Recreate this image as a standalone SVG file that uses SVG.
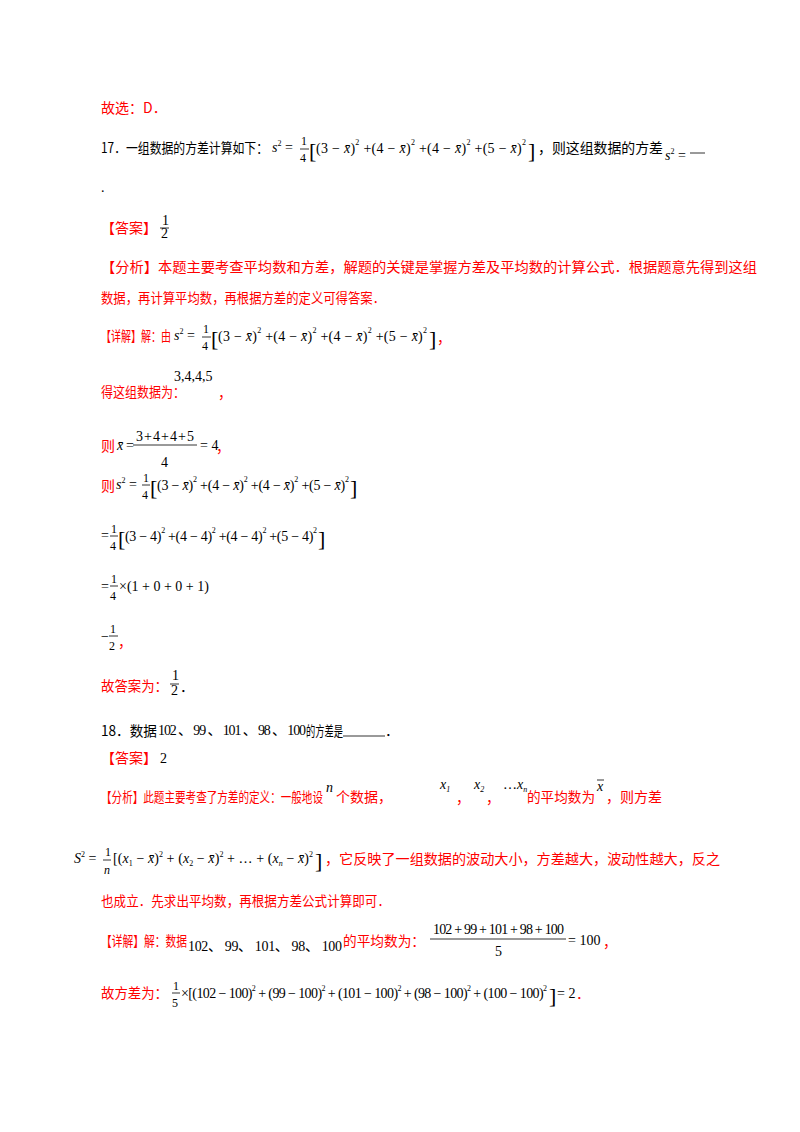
<svg xmlns="http://www.w3.org/2000/svg" width="800" height="1132" viewBox="0 0 800 1132">
<style>
text{font-family:"Liberation Serif","Noto Sans CJK SC",serif;font-size:14px;fill:#000}
.r{fill:#ff0000}
.c{font-family:"Noto Sans CJK SC","Liberation Sans",sans-serif;font-size:14px}
.i{font-style:italic}
.s{font-size:8px}
.f{font-size:12px}
.b{font-size:22px}
line{stroke:#000;stroke-width:0.8}
</style>
<rect width="800" height="1132" fill="#fff"/>
<text class="c r" x="101" y="113">故选：D．</text>

<text class="c" x="101" y="153" textLength="167" lengthAdjust="spacingAndGlyphs">17．一组数据的方差计算如下：</text>
<text x="272" y="152"><tspan class="i">s</tspan><tspan class="s" dy="-6">2</tspan><tspan dy="6"> =</tspan></text>
<text class="f" x="301" y="145">1</text><line x1="300" y1="149" x2="309" y2="149"/><text class="f" x="300" y="162">4</text>
<text x="309" y="158" class="b">[</text>
<text x="316" y="153" textLength="210" lengthAdjust="spacing">(3 − <tspan class="i">x̄</tspan>)<tspan class="s" dy="-8">2</tspan><tspan dy="8"> +(4 − </tspan><tspan class="i">x̄</tspan>)<tspan class="s" dy="-8">2</tspan><tspan dy="8"> +(4 − </tspan><tspan class="i">x̄</tspan>)<tspan class="s" dy="-8">2</tspan><tspan dy="8"> +(5 − </tspan><tspan class="i">x̄</tspan>)<tspan class="s" dy="-8">2</tspan></text>
<text x="528" y="158" class="b">]</text>
<text class="c" x="538" y="153" textLength="125" lengthAdjust="spacingAndGlyphs">，则这组数据的方差</text>
<text x="665" y="160"><tspan class="i">s</tspan><tspan class="s" dy="-6">2</tspan><tspan dy="6"> =</tspan></text>
<line x1="690" y1="153" x2="705" y2="153" stroke-width="1.5"/>
<text x="101" y="192">.</text>

<text class="c r" x="101" y="233">【答案】</text>
<text x="162" y="225" font-size="11">1</text><line x1="160" y1="228" x2="169" y2="228"/><text x="161" y="238" font-size="11">2</text>

<text class="c r" x="101" y="272" textLength="656" lengthAdjust="spacingAndGlyphs">【分析】本题主要考查平均数和方差，解题的关键是掌握方差及平均数的计算公式．根据题意先得到这组</text>
<text class="c r" x="101" y="303" textLength="284" lengthAdjust="spacingAndGlyphs">数据，再计算平均数，再根据方差的定义可得答案．</text>

<text class="c r" x="101" y="341" textLength="70" lengthAdjust="spacingAndGlyphs">【详解】解：由</text>
<text x="174" y="340"><tspan class="i">s</tspan><tspan class="s" dy="-6">2</tspan><tspan dy="6"> =</tspan></text>
<text class="f" x="203" y="333">1</text><line x1="202" y1="337" x2="211" y2="337"/><text class="f" x="202" y="350">4</text>
<text x="211" y="346" class="b">[</text>
<text x="218" y="341" textLength="209" lengthAdjust="spacing">(3 − <tspan class="i">x̄</tspan>)<tspan class="s" dy="-8">2</tspan><tspan dy="8"> +(4 − </tspan><tspan class="i">x̄</tspan>)<tspan class="s" dy="-8">2</tspan><tspan dy="8"> +(4 − </tspan><tspan class="i">x̄</tspan>)<tspan class="s" dy="-8">2</tspan><tspan dy="8"> +(5 − </tspan><tspan class="i">x̄</tspan>)<tspan class="s" dy="-8">2</tspan></text>
<text x="429" y="346" class="b">]</text>
<text class="c r" x="437" y="343">，</text>

<text class="c r" x="101" y="397" textLength="84" lengthAdjust="spacingAndGlyphs">得这组数据为：</text>
<text x="174" y="381">3,4,4,5</text>
<text class="c r" x="218" y="398">，</text>

<text class="c r" x="101" y="451">则</text>
<text x="117" y="450" class="i">x̄</text>
<text x="126" y="450">=</text>
<text x="136" y="441" textLength="58" lengthAdjust="spacing">3 + 4 + 4 + 5</text>
<line x1="133" y1="445" x2="197" y2="445"/>
<text x="161" y="467">4</text>
<text x="200" y="450">= 4</text>
<text class="c r" x="216" y="452">，</text>

<text class="c r" x="101" y="491">则</text>
<text x="116" y="489"><tspan class="i">s</tspan><tspan class="s" dy="-6">2</tspan><tspan dy="6"> =</tspan></text>
<text class="f" x="143" y="482">1</text><line x1="142" y1="485" x2="150" y2="485"/><text class="f" x="142" y="499">4</text>
<text x="150" y="495" class="b">[</text>
<text x="157" y="490" textLength="192" lengthAdjust="spacing">(3 − <tspan class="i">x̄</tspan>)<tspan class="s" dy="-8">2</tspan><tspan dy="8"> +(4 − </tspan><tspan class="i">x̄</tspan>)<tspan class="s" dy="-8">2</tspan><tspan dy="8"> +(4 − </tspan><tspan class="i">x̄</tspan>)<tspan class="s" dy="-8">2</tspan><tspan dy="8"> +(5 − </tspan><tspan class="i">x̄</tspan>)<tspan class="s" dy="-8">2</tspan></text>
<text x="350" y="495" class="b">]</text>

<text x="101" y="540">=</text>
<text class="f" x="111" y="533">1</text><line x1="110" y1="536" x2="118" y2="536"/><text class="f" x="110" y="550">4</text>
<text x="118" y="546" class="b">[</text>
<text x="125" y="541" textLength="192" lengthAdjust="spacing">(3 − 4)<tspan class="s" dy="-8">2</tspan><tspan dy="8"> +(4 − 4)</tspan><tspan class="s" dy="-8">2</tspan><tspan dy="8"> +(4 − 4)</tspan><tspan class="s" dy="-8">2</tspan><tspan dy="8"> +(5 − 4)</tspan><tspan class="s" dy="-8">2</tspan></text>
<text x="318" y="546" class="b">]</text>

<text x="101" y="591">=</text>
<text class="f" x="111" y="583">1</text><line x1="110" y1="586" x2="118" y2="586"/><text class="f" x="110" y="600">4</text>
<text x="119" y="591">×(1 + 0 + 0 + 1)</text>

<text x="101" y="641">−</text>
<text class="f" x="110" y="633">1</text><line x1="109" y1="636" x2="118" y2="636"/><text class="f" x="109" y="650">2</text>
<text class="c r" x="118" y="647">，</text>

<text class="c r" x="101" y="691" textLength="67" lengthAdjust="spacingAndGlyphs">故答案为：</text>
<text x="172" y="680" font-size="11">1</text><line x1="170" y1="684" x2="179" y2="684"/><text x="171" y="695" font-size="11">2</text>
<text class="c" x="180" y="692">．</text>

<text class="c" x="101" y="736" textLength="56" lengthAdjust="spacingAndGlyphs">18．数据</text>
<text x="158" y="735" textLength="148" lengthAdjust="spacing">102 、 99 、 101 、 98 、 100</text>
<text class="c" x="306" y="736" textLength="37" lengthAdjust="spacingAndGlyphs">的方差是</text>
<line x1="343" y1="736" x2="385" y2="736"/>
<text class="c" x="385" y="736">．</text>

<text class="c r" x="101" y="763">【答案】</text><text x="160" y="763">2</text>

<text class="c r" x="101" y="802" textLength="222" lengthAdjust="spacingAndGlyphs">【分析】此题主要考查了方差的定义：一般地设</text>
<text class="i" x="326" y="792">n</text>
<text class="c r" x="336" y="802" textLength="56" lengthAdjust="spacingAndGlyphs">个数据，</text>
<text class="i" x="440" y="789" font-size="15">x<tspan class="s" dy="3">1</tspan></text>
<text class="c r" x="456" y="803">，</text>
<text class="i" x="474" y="789" font-size="12">x<tspan class="s" dy="3">2</tspan></text>
<text class="c r" x="486" y="803">，</text>
<text x="503" y="789" font-size="12">…<tspan class="i">x</tspan><tspan class="s i" dy="3">n</tspan></text>
<text class="c r" x="527" y="802" textLength="68" lengthAdjust="spacingAndGlyphs">的平均数为</text>
<text class="i" x="597" y="791">x</text><line x1="597" y1="780" x2="604" y2="780"/>
<text class="c r" x="606" y="802" textLength="56" lengthAdjust="spacingAndGlyphs">，则方差</text>

<text x="74" y="863"><tspan class="i">S</tspan><tspan class="s" dy="-6">2</tspan><tspan dy="6"> =</tspan></text>
<text class="f" x="105" y="856">1</text><line x1="103" y1="860" x2="111" y2="860"/><text class="f i" x="104" y="874">n</text>
<text x="113" y="863" textLength="200" lengthAdjust="spacing">[(<tspan class="i">x</tspan><tspan class="s" dy="3">1</tspan><tspan dy="-3"> − </tspan><tspan class="i">x̄</tspan>)<tspan class="s" dy="-6">2</tspan><tspan dy="6"> + (</tspan><tspan class="i">x</tspan><tspan class="s" dy="3">2</tspan><tspan dy="-3"> − </tspan><tspan class="i">x̄</tspan>)<tspan class="s" dy="-6">2</tspan><tspan dy="6"> + … + (</tspan><tspan class="i">x</tspan><tspan class="s i" dy="3">n</tspan><tspan dy="-3"> − </tspan><tspan class="i">x̄</tspan>)<tspan class="s" dy="-6">2</tspan></text>
<text x="315" y="868" class="b">]</text>
<text class="c r" x="325" y="864" textLength="395" lengthAdjust="spacingAndGlyphs">，它反映了一组数据的波动大小，方差越大，波动性越大，反之</text>
<text class="c r" x="101" y="906" textLength="289" lengthAdjust="spacingAndGlyphs">也成立．先求出平均数，再根据方差公式计算即可．</text>

<text class="c r" x="101" y="946" textLength="86" lengthAdjust="spacingAndGlyphs">【详解】解：数据</text>
<text x="188" y="951" textLength="154" lengthAdjust="spacing">102、 99、 101、 98、 100</text>
<text class="c r" x="343" y="946" textLength="82" lengthAdjust="spacingAndGlyphs">的平均数为：</text>
<text x="433" y="934" textLength="131" lengthAdjust="spacing">102 + 99 + 101 + 98 + 100</text>
<line x1="430" y1="939" x2="566" y2="939"/>
<text x="495" y="956">5</text>
<text x="568" y="945">= 100</text>
<text class="c r" x="603" y="947">，</text>

<text class="c r" x="101" y="998" textLength="67" lengthAdjust="spacingAndGlyphs">故方差为：</text>
<text class="f" x="173" y="990">1</text><line x1="172" y1="993" x2="180" y2="993"/><text class="f" x="172" y="1007">5</text>
<text x="181" y="998" textLength="366" lengthAdjust="spacing">×[(102 − 100)<tspan class="s" dy="-7">2</tspan><tspan dy="7"> + (99 − 100)</tspan><tspan class="s" dy="-7">2</tspan><tspan dy="7"> + (101 − 100)</tspan><tspan class="s" dy="-7">2</tspan><tspan dy="7"> + (98 − 100)</tspan><tspan class="s" dy="-7">2</tspan><tspan dy="7"> + (100 − 100)</tspan><tspan class="s" dy="-7">2</tspan></text>
<text x="549" y="1003" class="b">]</text>
<text x="557" y="998">= 2</text>
<text class="c r" x="576" y="999">．</text>
</svg>
